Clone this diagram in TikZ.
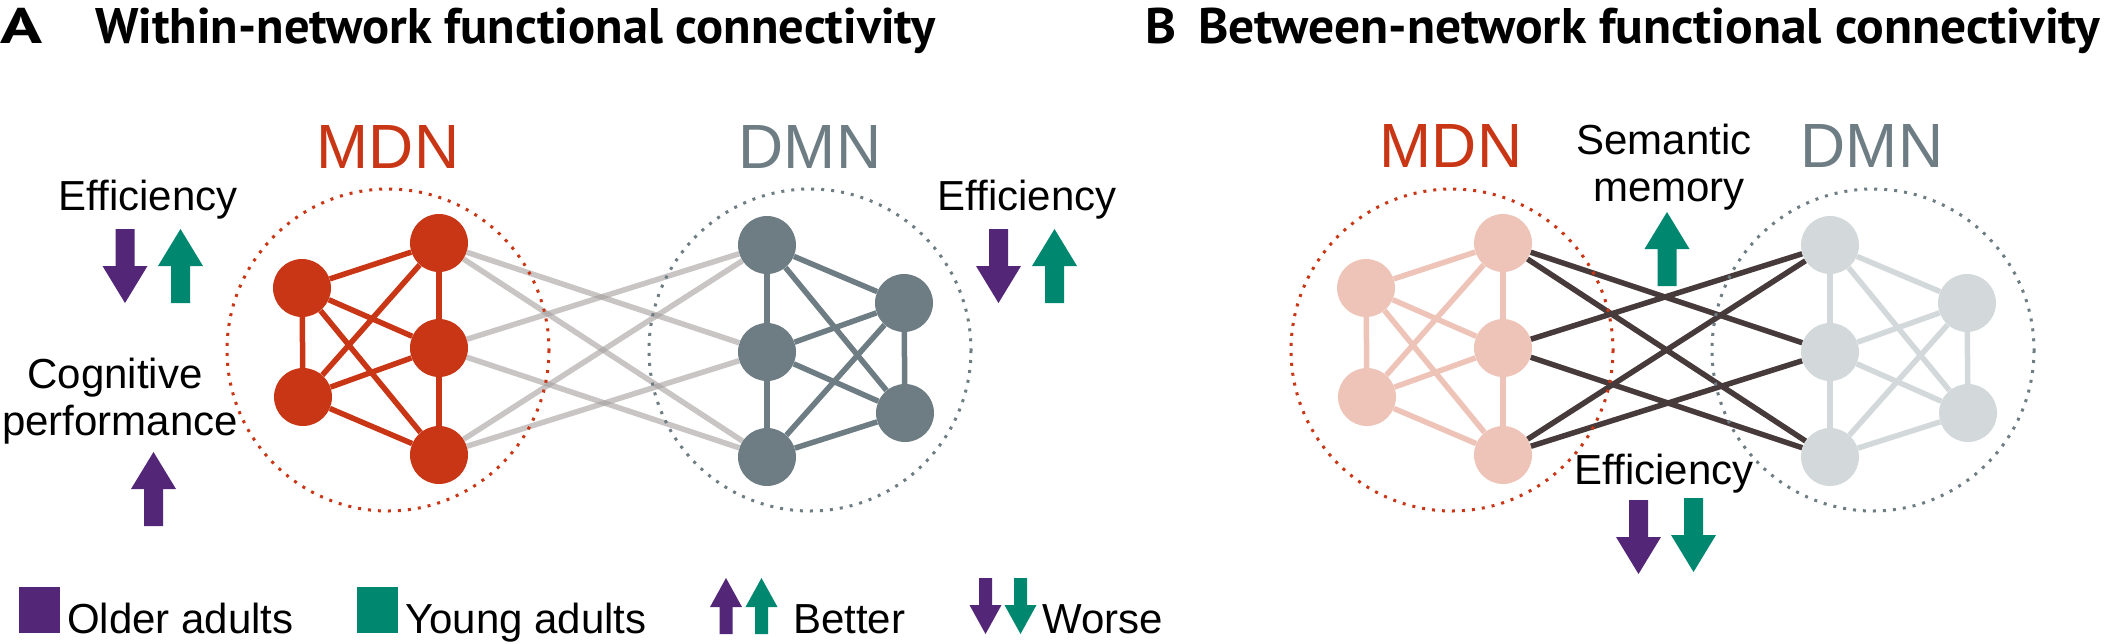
\documentclass[tikz,border=0pt]{standalone}
\usepackage{graphicx}
\usepackage{fontspec}
\setmainfont{Liberation Sans}
\newfontfamily\ttlfamily{PT Sans}
\usetikzlibrary{backgrounds}
\definecolor{mdnc}{RGB}{200,54,21}
\definecolor{dmnc}{RGB}{109,125,131}
\definecolor{oldc}{RGB}{83,38,120}
\definecolor{youngc}{RGB}{0,135,112}
\definecolor{mdnpale}{RGB}{238,195,184}
\definecolor{dmnpale}{RGB}{211,217,218}
\definecolor{betwdark}{RGB}{71,58,58}
\definecolor{betwgray}{RGB}{165,158,158}
\newcommand\ttlfont{\ttlfamily\bfseries\fontsize{50}{60}\selectfont}
\tikzset{
  netnode/.style={circle,minimum size=58pt,inner sep=0pt,draw=none},
  txt/.style={font=\fontsize{42}{48}\selectfont,inner sep=0pt,anchor=base},
  netlbl/.style={font=\fontsize{62.5}{70}\selectfont,inner sep=0pt,anchor=base},
  ttl/.style={inner sep=0pt,anchor=base west},
  within/.style={line width=5.5pt},
  betwA/.style={line width=5.5pt,draw=betwgray,draw opacity=0.6},
  betwB/.style={line width=5.5pt,draw=betwdark},
  ring/.style={line width=3pt,dash pattern=on 3pt off 7pt},
  legsq/.style={minimum width=41pt,minimum height=46pt,inner sep=0pt,anchor=north west,draw=none},
  bigup/.pic={\path[pic actions] (0,0) -- (22.5,37) -- (9.5,37) -- (9.5,74) -- (-9.5,74) -- (-9.5,37) -- (-22.5,37) -- cycle;},
  bigdown/.pic={\path[pic actions] (-9.5,0) -- (9.5,0) -- (9.5,37) -- (22.5,37) -- (0,74) -- (-22.5,37) -- (-9.5,37) -- cycle;},
  smup/.pic={\path[pic actions] (0,0) -- (16,29) -- (6.5,29) -- (6.5,56) -- (-6.5,56) -- (-6.5,29) -- (-16,29) -- cycle;},
  smdown/.pic={\path[pic actions] (-6.5,0) -- (6.5,0) -- (6.5,27) -- (16,27) -- (0,56) -- (-16,27) -- (-6.5,27) -- cycle;},
}
\begin{document}
\begin{tikzpicture}[x=1pt,y=-1pt]
\useasboundingbox (0,0) rectangle (2109,643);

% ---------- titles ----------
\node[ttl] (letA) at (0,43) {\resizebox{42pt}{\height}{\ttlfont A}};
\node[ttl] (ttlA) at (95,43) {\resizebox{840pt}{\height}{\ttlfont Within-network functional connectivity}};
\node[ttl] (letB) at (1145,43) {\resizebox{31pt}{\height}{\ttlfont B}};
\node[ttl] (ttlB) at (1198,43) {\resizebox{902pt}{\height}{\ttlfont Between-network functional connectivity}};

% ---------- network labels ----------
\node[netlbl,text=mdnc] (lblMA) at (388,168) {MDN};
\node[netlbl,text=dmnc] (lblDA) at (810,168) {DMN};
\node[netlbl,text=mdnc] (lblMB) at (1451,167) {MDN};
\node[netlbl,text=dmnc] (lblDB) at (1872,167) {DMN};

% ---------- nodes panel A ----------
\node[netnode,fill=mdnc] (Am1) at (302,288) {};
\node[netnode,fill=mdnc] (Am2) at (439,243) {};
\node[netnode,fill=mdnc] (Am3) at (439,348) {};
\node[netnode,fill=mdnc] (Am4) at (303,397) {};
\node[netnode,fill=mdnc] (Am5) at (439,455) {};
\node[netnode,fill=dmnc] (Ad1) at (767,245) {};
\node[netnode,fill=dmnc] (Ad2) at (904,303) {};
\node[netnode,fill=dmnc] (Ad3) at (767,352) {};
\node[netnode,fill=dmnc] (Ad4) at (905,413) {};
\node[netnode,fill=dmnc] (Ad5) at (767,457) {};
% ---------- nodes panel B ----------
\node[netnode,fill=mdnpale] (Bm1) at (1366,288) {};
\node[netnode,fill=mdnpale] (Bm2) at (1503,243) {};
\node[netnode,fill=mdnpale] (Bm3) at (1503,348) {};
\node[netnode,fill=mdnpale] (Bm4) at (1367,397) {};
\node[netnode,fill=mdnpale] (Bm5) at (1503,455) {};
\node[netnode,fill=dmnpale] (Bd1) at (1830,245) {};
\node[netnode,fill=dmnpale] (Bd2) at (1967,303) {};
\node[netnode,fill=dmnpale] (Bd3) at (1830,352) {};
\node[netnode,fill=dmnpale] (Bd4) at (1968,413) {};
\node[netnode,fill=dmnpale] (Bd5) at (1830,457) {};

% ---------- dotted rings ----------
\draw[ring,draw=mdnc] (388,350) circle[radius=161];
\draw[ring,draw=dmnc] (810,350) circle[radius=161];
\draw[ring,draw=mdnc] (1452,350) circle[radius=161];
\draw[ring,draw=dmnc] (1873,350) circle[radius=161];

% ---------- edges ----------
\begin{scope}[on background layer]
  \foreach \a/\b in {m2/d3,m2/d5,m3/d1,m3/d5,m5/d1,m5/d3}{
    \draw[betwA] (A\a) -- (A\b);
    \draw[betwB] (B\a) -- (B\b);
  }
  \foreach \a/\b in {m1/m2,m1/m3,m1/m4,m1/m5,m2/m3,m2/m4,m3/m4,m3/m5,m4/m5}{
    \draw[within,draw=mdnc] (A\a) -- (A\b);
    \draw[within,draw=mdnpale] (B\a) -- (B\b);
  }
  \foreach \a/\b in {d1/d2,d1/d3,d1/d4,d2/d3,d2/d4,d2/d5,d3/d4,d3/d5,d4/d5}{
    \draw[within,draw=dmnc] (A\a) -- (A\b);
    \draw[within,draw=dmnpale] (B\a) -- (B\b);
  }
\end{scope}

% ---------- texts and arrows panel A ----------
\node[txt] (effAL) at (148,210) {Efficiency};
\pic[fill=oldc] (aAL1) at (125,229) {bigdown};
\pic[fill=youngc] (aAL2) at (180.5,229) {bigup};
\node[txt] (effAR) at (1027,210) {Efficiency};
\pic[fill=oldc] (aAR1) at (998.5,229) {bigdown};
\pic[fill=youngc] (aAR2) at (1054.5,229) {bigup};
\node[txt] (cog1) at (115,388) {Cognitive};
\node[txt] (cog2) at (120,435) {performance};
\pic[fill=oldc] (aCog) at (153.5,452) {bigup};

% ---------- texts and arrows panel B ----------
\node[txt] (sem1) at (1664,154) {Semantic};
\node[txt] (sem2) at (1669,201) {memory};
\pic[fill=youngc] (aSem) at (1667,212) {bigup};
\node[txt] (effB) at (1664,484) {Efficiency};
\pic[fill=oldc] (aB1) at (1638.5,500) {bigdown};
\pic[fill=youngc] (aB2) at (1693.5,498) {bigdown};

% ---------- legend ----------
\node[legsq,fill=oldc] (sqOld) at (19,587) {};
\node[txt,anchor=base west] (tOld) at (67,633) {Older adults};
\node[legsq,fill=youngc] (sqYoung) at (357,587) {};
\node[txt,anchor=base west] (tYoung) at (405,633) {Young adults};
\pic[fill=oldc] (lu1) at (726,578) {smup};
\pic[fill=youngc] (lu2) at (761.5,578) {smup};
\node[txt,anchor=base west] (tBetter) at (793,633) {Better};
\pic[fill=oldc] (ld1) at (985.5,578) {smdown};
\pic[fill=youngc] (ld2) at (1020.5,578) {smdown};
\node[txt,anchor=base west] (tWorse) at (1042,633) {Worse};
\end{tikzpicture}
\end{document}
